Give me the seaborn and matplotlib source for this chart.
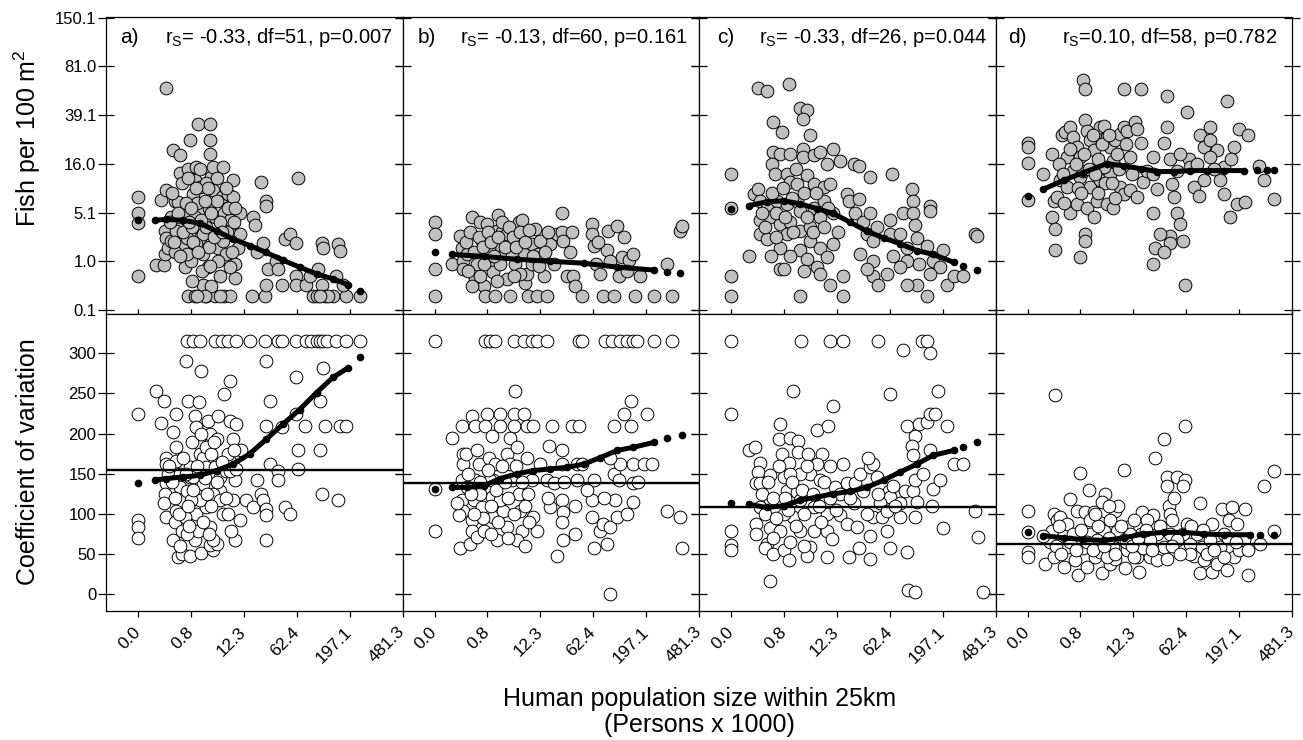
import numpy as np
import matplotlib
matplotlib.use('Agg')
import matplotlib.pyplot as plt
from matplotlib.ticker import FixedLocator, FuncFormatter, MultipleLocator
import seaborn as sns

nan = np.nan

# Values are plotted on fourth-root scales (population and fish density),
# so the arrays hold the transformed numbers.
pop_max = 481.3
cv_ceiling = 316

# ---- top row: fish density (4th root), pairs of (pop, fish) ----
fish_a = np.array([
    (0, 1.66), (0, 1.49), (0, 1.39), (0, 0.85),
    (0.31, 0.96), (0.46, 0.96), (0.41, 1.63), (0.50, 1.73), (0.49, 2.78), (0.47, 1.31), (0.50, 1.24),
    (0.47, 1.07), (0.53, 1.14), (0.59, 1.21), (0.62, 2.14), (0.74, 2.09), (0.74, 1.91), (0.65, 1.62),
    (0.71, 1.61), (0.74, 1.49), (0.71, 1.33), (0.77, 1.16), (0.83, 0.94), (0.86, 1.24), (0.92, 2.24),
    (0.89, 1.95), (0.89, 0.64), (1.00, 0.64), (0.94, 1.00), (1.00, 1.83), (0.97, 1.69), (1.03, 1.97),
    (1.06, 2.41), (1.09, 1.76), (1.12, 1.55), (1.09, 1.24), (1.15, 0.76), (1.15, 1.07), (1.21, 0.64),
    (1.24, 0.94), (1.27, 2.41), (1.27, 2.24), (1.27, 2.10), (1.30, 1.86), (1.33, 1.97), (1.26, 1.55),
    (1.33, 1.73), (1.36, 1.45), (1.39, 1.28), (1.42, 1.14), (1.45, 0.85), (1.48, 1.66), (1.51, 1.97),
    (1.53, 1.49), (1.56, 1.07), (1.59, 1.69), (1.62, 1.42), (1.65, 1.28), (1.68, 1.83), (1.68, 1.66),
    (1.71, 0.97), (1.71, 0.83), (1.36, 0.64), (1.53, 0.64), (1.62, 0.64), (1.77, 1.14), (1.80, 1.28),
    (1.80, 1.49), (1.45, 0.64), (1.62, 0.94), (1.15, 1.28), (1.00, 1.45), (0.86, 1.07), (0.80, 1.49),
    (0.68, 1.31), (0.59, 1.45), (1.03, 1.18), (1.21, 1.35), (1.39, 1.62), (1.51, 1.21),
    (0.56, 1.40), (0.65, 1.10), (0.80, 1.30), (0.95, 1.35), (1.05, 1.60), (1.20, 1.80), (1.10, 1.95),
    (1.40, 1.85), (1.45, 1.40), (1.58, 1.30), (1.70, 1.40), (1.25, 1.15), (0.95, 0.80), (1.30, 0.75),
    (1.18, 0.64), (1.05, 0.64),
    (0.60, 1.70), (0.70, 1.50), (0.78, 1.80), (0.85, 1.60), (0.90, 1.40), (0.98, 1.20), (1.06, 1.10),
    (1.12, 1.42), (1.18, 1.62), (1.24, 1.75), (1.30, 1.50), (1.35, 1.25), (1.42, 1.00), (1.48, 1.30),
    (1.55, 1.75), (1.60, 1.55), (1.66, 1.10), (1.72, 1.55), (1.02, 1.75), (0.88, 1.85), (0.93, 1.55),
    (1.13, 0.90), (1.28, 0.95), (0.75, 1.05), (0.64, 1.20),
    (2.01, 0.64), (2.04, 1.45), (2.07, 1.37), (2.10, 1.09), (2.18, 1.81), (2.21, 1.19), (2.24, 0.64),
    (2.27, 1.62), (2.27, 1.57), (2.30, 0.92), (2.27, 0.76), (2.45, 1.00), (2.48, 0.92), (2.54, 0.76),
    (2.60, 1.23), (2.69, 1.28), (2.80, 1.19), (2.83, 1.85), (2.80, 0.85), (2.80, 0.76), (2.98, 0.76),
    (3.04, 0.85), (3.10, 0.64), (3.16, 0.64), (3.19, 0.92), (3.25, 1.19), (3.28, 1.14), (3.25, 0.76),
    (3.31, 0.64), (3.45, 0.64), (3.51, 0.85), (3.54, 1.18), (3.57, 1.11), (3.69, 0.64), (3.63, 0.76),
    (3.93, 0.64), (3.36, 0.64), (3.22, 0.64)])

fish_b = np.array([
    (0, 1.40), (0, 1.28), (0, 0.92), (0, 0.64),
    (0.31, 0.97), (0.45, 1.26), (0.48, 1.14), (0.51, 1.00), (0.51, 0.92), (0.66, 1.45), (0.72, 0.82),
    (0.81, 1.40), (0.84, 1.21), (0.87, 0.75), (0.90, 0.64), (0.93, 1.38), (0.99, 0.97), (1.04, 0.89),
    (1.07, 0.64), (1.10, 1.31), (1.13, 1.47), (1.16, 1.16), (1.19, 1.30), (1.22, 1.06), (1.28, 0.82),
    (1.34, 0.64), (1.40, 1.21), (1.43, 0.97), (1.46, 1.28), (1.49, 1.40), (1.55, 1.42), (1.58, 1.07),
    (1.61, 0.78), (1.64, 0.87), (1.66, 0.64), (1.72, 1.18), (1.78, 1.33), (1.81, 0.64), (1.84, 1.07),
    (1.93, 0.85), (1.99, 0.64), (2.05, 1.18), (2.11, 0.97), (2.17, 1.28), (2.26, 1.50), (2.26, 1.30),
    (2.28, 1.21), (2.34, 0.85), (2.43, 1.30), (2.46, 0.85), (2.49, 0.75), (2.61, 0.64), (2.79, 1.38),
    (2.79, 1.28), (2.82, 1.16), (2.85, 0.97), (2.93, 0.87), (2.99, 0.64), (3.05, 1.12), (3.08, 1.31),
    (3.17, 0.64), (3.23, 1.36), (3.26, 0.85), (3.32, 1.04), (3.44, 1.01), (3.52, 1.07), (3.55, 0.64),
    (3.64, 0.85), (3.88, 0.64), (4.11, 0.97), (4.20, 0.64), (4.35, 1.31), (4.38, 1.36),
    (0.57, 1.07), (0.75, 0.97), (0.96, 1.14), (1.28, 1.28), (1.37, 1.07), (1.52, 0.87), (1.72, 0.97),
    (1.87, 1.21), (1.16, 0.97), (0.87, 0.97), (0.66, 0.75),
    (0.55, 1.20), (0.62, 1.30), (0.70, 1.10), (0.78, 1.25), (0.85, 1.15), (0.95, 1.30), (1.00, 1.20),
    (1.05, 1.05), (1.12, 1.25), (1.20, 1.40), (1.25, 1.15), (1.32, 1.35), (1.38, 1.25), (1.45, 1.15),
    (1.52, 1.30), (1.60, 1.20), (1.68, 1.32), (1.75, 1.05), (1.85, 0.95), (1.95, 1.10), (0.60, 0.90),
    (0.80, 0.85), (1.10, 0.80), (1.40, 0.85), (2.00, 1.30), (2.40, 1.10), (2.90, 1.20), (3.10, 1.00),
    (3.35, 1.25), (3.40, 0.90)])

fish_c = np.array([
    (0, 1.90), (0, 1.55), (0, 0.85), (0, 0.64),
    (0.31, 1.05), (0.40, 1.69), (0.48, 1.74), (0.48, 2.78), (0.63, 2.75), (1.02, 2.82), (1.22, 2.57),
    (1.34, 2.55), (1.28, 2.46), (0.75, 2.43), (0.90, 2.33), (1.40, 2.29), (0.75, 2.12), (0.87, 2.10),
    (1.04, 2.10), (1.28, 2.15), (1.28, 2.07), (1.46, 2.09), (1.58, 2.12), (1.81, 2.15), (1.69, 2.00),
    (1.93, 2.03), (2.17, 2.00), (2.26, 1.98), (2.46, 1.86), (2.85, 1.90), (0.72, 2.00), (0.78, 1.90),
    (0.99, 1.90), (1.04, 1.81), (1.16, 1.79), (1.34, 1.88), (1.46, 1.79), (1.64, 1.76), (1.75, 1.79),
    (0.51, 1.62), (0.63, 1.55), (0.81, 1.62), (0.99, 1.59), (1.16, 1.62), (1.22, 1.52), (1.46, 1.55),
    (1.64, 1.62), (1.81, 1.49), (0.51, 1.42), (0.69, 1.45), (0.87, 1.38), (1.04, 1.40), (1.22, 1.31),
    (1.40, 1.35), (1.58, 1.45), (0.51, 1.28), (0.63, 1.23), (0.87, 1.14), (0.99, 1.28), (1.22, 1.12),
    (1.40, 1.21), (1.58, 1.14), (1.69, 1.04), (1.81, 1.18), (0.87, 0.92), (0.93, 0.92), (1.34, 1.02),
    (1.52, 0.94), (1.58, 0.87), (1.75, 0.76), (1.99, 0.85), (1.22, 0.64), (1.99, 0.64), (2.05, 1.69),
    (2.08, 1.62), (2.26, 1.64), (2.20, 1.49), (2.34, 1.40), (2.46, 1.49), (2.40, 1.28), (2.58, 1.35),
    (2.52, 1.21), (2.28, 1.07), (2.52, 1.00), (2.52, 0.85), (2.40, 0.92), (2.61, 0.76), (2.82, 1.42),
    (2.82, 1.28), (2.99, 1.28), (3.05, 1.50), (3.20, 1.74), (3.23, 1.62), (3.23, 1.49), (3.26, 1.37),
    (3.52, 1.57), (3.52, 1.52), (3.29, 1.24), (3.47, 1.16), (3.11, 1.14), (3.11, 1.00), (3.32, 0.97),
    (3.58, 1.00), (3.76, 1.12), (3.29, 0.76), (3.11, 0.76), (3.47, 0.64), (3.70, 0.94), (3.82, 0.76),
    (3.94, 0.85), (4.11, 0.85), (4.32, 1.28), (4.35, 1.26), (2.87, 1.05), (2.99, 0.94), (2.76, 0.87),
    (3.52, 0.87),
    (0.55, 1.50), (0.60, 1.35), (0.72, 1.70), (0.80, 1.50), (0.92, 1.75), (0.95, 1.45), (1.08, 1.65),
    (1.10, 1.30), (1.15, 1.95), (1.30, 1.70), (1.35, 1.45), (1.45, 1.30), (1.50, 1.70), (1.65, 1.35),
    (1.72, 1.55), (0.80, 1.25), (1.05, 1.05), (1.30, 0.90), (0.70, 1.05), (1.90, 1.30)])

fish_d = np.array([
    (0, 2.21), (0, 2.17), (0, 2.01), (0, 1.63),
    (0.28, 1.90), (0.43, 2.10), (0.46, 1.62), (0.43, 1.45), (0.49, 1.33), (0.49, 1.12), (0.61, 2.29),
    (0.67, 2.33), (0.76, 2.38), (0.81, 2.27), (0.87, 2.17), (0.93, 2.07), (0.99, 2.86), (1.02, 2.77),
    (1.02, 2.45), (1.05, 2.34), (1.11, 2.24), (1.17, 2.14), (1.23, 2.29), (1.29, 2.38), (1.35, 2.39),
    (1.40, 2.27), (1.46, 2.17), (1.52, 2.03), (1.55, 2.24), (1.64, 2.31), (1.70, 2.38), (1.76, 2.34),
    (1.91, 2.43), (1.94, 2.36), (2.00, 2.21), (0.58, 1.83), (0.70, 1.76), (0.81, 1.93), (0.93, 1.86),
    (1.11, 1.76), (1.29, 1.83), (1.46, 1.90), (1.64, 1.76), (0.52, 1.66), (0.76, 1.50), (0.87, 1.59),
    (1.05, 1.55), (1.17, 1.45), (1.23, 1.62), (1.40, 1.59), (1.52, 1.55), (1.70, 1.69), (1.82, 1.73),
    (1.94, 1.66), (2.05, 1.81), (2.11, 1.93), (1.02, 1.28), (1.02, 1.21), (0.93, 1.04), (1.70, 2.77),
    (2.00, 2.77), (2.23, 2.07), (2.23, 1.90), (2.29, 1.74), (2.41, 2.21), (2.47, 2.38), (2.47, 2.69),
    (2.53, 2.05), (2.56, 1.79), (2.59, 1.66), (2.64, 1.49), (2.70, 1.38), (2.53, 1.26), (2.53, 1.19),
    (2.76, 1.21), (2.82, 2.53), (2.85, 2.05), (2.94, 1.76), (3.03, 1.67), (3.06, 2.29), (3.12, 2.17),
    (3.23, 2.38), (3.23, 2.24), (3.35, 2.14), (3.47, 1.97), (3.41, 1.83), (3.47, 1.69), (3.53, 2.64),
    (3.65, 2.17), (3.74, 2.36), (3.71, 1.59), (3.85, 1.61), (3.59, 1.45), (3.91, 2.29), (4.09, 1.98),
    (4.18, 1.83), (4.36, 1.64), (2.23, 1.50), (2.35, 1.28), (2.26, 1.14), (2.41, 1.09), (2.23, 0.97),
    (2.79, 0.76), (2.88, 1.97), (3.12, 1.83), (3.23, 2.07), (2.64, 1.93), (1.82, 2.07), (1.35, 1.97),
    (0.70, 2.07), (0.99, 1.93),
    (0.55, 2.00), (0.62, 1.90), (0.75, 2.15), (0.85, 2.00), (0.90, 1.75), (1.00, 2.10), (1.08, 1.95),
    (1.15, 2.30), (1.20, 1.90), (1.25, 2.05), (1.32, 2.20), (1.38, 1.80), (1.45, 2.30), (1.50, 1.80),
    (1.58, 2.10), (1.62, 1.95), (1.75, 2.20), (1.85, 1.90), (0.65, 1.60), (0.95, 1.70), (1.25, 1.70),
    (1.55, 1.65), (3.00, 2.00), (3.30, 1.95), (3.60, 2.05), (2.70, 2.10)])

# smoothed trend (dotted black), nan marks a gap between runs
fish_fit_a = np.array([(0, 1.42), (nan, nan), (0.30, 1.42), (0.50, 1.43), (0.80, 1.42), (1.09, 1.39),
                       (1.39, 1.31), (1.68, 1.23), (1.98, 1.16), (2.27, 1.09), (2.57, 1.01), (2.86, 0.94),
                       (3.16, 0.87), (3.45, 0.82), (3.72, 0.76), (nan, nan), (3.93, 0.70)])
fish_fit_b = np.array([(0, 1.09), (nan, nan), (0.31, 1.07), (0.87, 1.05), (1.46, 1.02), (2.05, 1.00),
                       (2.64, 0.98), (3.23, 0.94), (3.88, 0.91), (nan, nan), (4.11, 0.89), (nan, nan),
                       (4.35, 0.88)])
fish_fit_c = np.array([(0, 1.54), (nan, nan), (0.31, 1.57), (0.63, 1.61), (0.93, 1.62), (1.22, 1.59),
                       (1.52, 1.54), (1.81, 1.49), (2.11, 1.40), (2.40, 1.31), (2.70, 1.24), (2.99, 1.18),
                       (3.29, 1.11), (3.58, 1.07), (3.94, 0.99), (nan, nan), (4.11, 0.95), (nan, nan),
                       (4.35, 0.91)])
fish_fit_d = np.array([(0, 1.67), (nan, nan), (0.28, 1.74), (0.64, 1.83), (0.99, 1.91), (1.40, 2.00),
                       (1.70, 1.98), (2.00, 1.95), (2.29, 1.92), (2.59, 1.92), (2.88, 1.93), (3.18, 1.93),
                       (3.47, 1.93), (3.83, 1.93), (nan, nan), (4.06, 1.94), (nan, nan), (4.24, 1.94),
                       (nan, nan), (4.36, 1.94)])

# ---- bottom row: coefficient of variation, pairs of (pop, cv) ----
cv_a = np.array([
    (0, 224), (0, 92), (0, 84), (0, 70),
    (0.32, 253), (0.41, 213), (0.46, 241), (0.50, 170), (0.50, 162), (0.53, 150), (0.50, 139), (0.47, 125),
    (0.46, 113), (0.50, 96), (0.62, 202), (0.68, 224), (0.68, 183), (0.68, 166), (0.74, 150), (0.74, 133),
    (0.68, 104), (0.65, 90), (0.62, 68), (0.70, 46), (0.77, 50), (0.86, 129), (0.92, 158), (0.92, 146),
    (0.89, 241), (0.92, 48), (1.00, 67), (1.03, 100), (1.06, 79), (1.12, 51), (0.84, 290), (1.12, 278),
    (1.08, 239), (1.00, 222), (1.03, 208), (1.09, 187), (1.09, 175), (1.15, 170), (1.21, 183), (1.21, 158),
    (1.24, 216), (1.27, 199), (1.30, 175), (1.36, 158), (1.39, 193), (1.42, 222), (1.45, 146), (1.45, 129),
    (1.51, 100), (1.56, 154), (1.59, 175), (1.62, 216), (1.68, 193), (1.71, 142), (1.80, 175), (1.80, 92),
    (1.71, 67), (1.65, 79), (1.53, 249), (1.62, 266), (1.33, 55), (1.27, 61), (1.39, 63), (1.21, 108),
    (1.27, 84), (1.33, 67), (1.09, 117), (1.15, 137), (0.94, 117), (0.83, 96), (0.77, 79), (0.86, 75),
    (0.97, 146), (1.33, 125), (1.45, 117), (1.68, 117), (1.62, 154), (1.74, 212), (1.74, 156), (1.83, 179),
    (1.92, 117), (2.04, 108), (2.10, 142), (2.18, 125), (2.21, 117), (2.27, 106), (2.27, 98), (2.27, 290),
    (2.33, 241), (2.27, 67), (2.27, 210), (2.33, 162), (2.48, 154), (2.48, 142), (2.60, 108), (2.69, 100),
    (2.54, 208), (2.80, 270), (2.80, 224), (2.83, 179), (2.83, 156), (2.95, 210), (3.22, 179), (3.25, 125),
    (3.28, 282), (3.31, 210), (3.54, 117), (3.57, 210), (3.69, 210), (3.22, 241),
    (0.55, 160), (0.60, 140), (0.65, 120), (0.72, 100), (0.80, 170), (0.85, 150), (0.88, 110), (0.95, 190),
    (0.98, 130), (1.05, 160), (1.12, 200), (1.18, 145), (1.22, 125), (1.30, 110), (1.35, 190), (1.40, 140),
    (1.48, 165), (1.55, 120), (1.60, 100), (1.70, 180), (0.90, 85), (1.15, 90), (1.25, 75), (0.75, 60)])

cv_b = np.array([
    (0, 131), (0, 79),
    (0.31, 195), (0.48, 210), (0.51, 175), (0.51, 162), (0.48, 142), (0.48, 117), (0.51, 104), (0.43, 98),
    (0.45, 57), (0.63, 63), (0.66, 222), (0.72, 210), (0.78, 162), (0.72, 142), (0.69, 117), (0.66, 92),
    (0.66, 79), (0.75, 71), (0.84, 108), (0.87, 79), (0.93, 224), (0.90, 210), (0.96, 170), (1.02, 197),
    (1.07, 162), (1.04, 142), (1.02, 121), (1.04, 96), (1.10, 67), (1.16, 224), (1.16, 210), (1.28, 175),
    (1.34, 195), (1.34, 162), (1.37, 142), (1.40, 224), (1.40, 210), (1.43, 253), (1.46, 183), (1.49, 125),
    (1.52, 104), (1.55, 79), (1.58, 224), (1.64, 210), (1.64, 170), (1.66, 125), (1.72, 142), (1.75, 210),
    (1.75, 96), (1.81, 79), (1.46, 67), (1.22, 104), (1.16, 117), (1.28, 84), (0.99, 142), (0.81, 125),
    (0.57, 133), (0.40, 113), (1.87, 162), (1.99, 142), (2.02, 184), (2.08, 210), (2.11, 139), (2.05, 108),
    (2.26, 179), (2.26, 162), (2.26, 117), (2.28, 102), (2.26, 90), (2.28, 67), (2.17, 47), (2.43, 210),
    (2.55, 210), (2.52, 162), (2.52, 142), (2.49, 110), (2.49, 75), (2.61, 162), (2.79, 117), (2.82, 142),
    (2.79, 96), (2.82, 57), (2.93, 79), (2.99, 88), (3.05, 63), (3.11, 84), (3.11, 0), (3.17, 150),
    (3.17, 210), (3.23, 96), (3.20, 117), (3.26, 142), (3.29, 162), (3.35, 224), (3.47, 241), (3.47, 210),
    (3.52, 162), (3.52, 139), (3.52, 115), (3.70, 162), (3.76, 224), (3.85, 162), (4.11, 104), (4.35, 96),
    (4.38, 58), (3.11, 170),
    (0.55, 175), (0.60, 150), (0.65, 125), (0.75, 180), (0.80, 140), (0.85, 95), (0.95, 155), (1.00, 110),
    (1.08, 130), (1.12, 90), (1.20, 160), (1.25, 140), (1.30, 120), (1.40, 100), (1.45, 160), (1.55, 140),
    (1.60, 110), (1.68, 90), (0.70, 100), (1.00, 75), (1.30, 70), (1.60, 60), (2.00, 120), (2.30, 140),
    (2.70, 130), (3.00, 120), (3.40, 100), (3.60, 140)])

cv_c = np.array([
    (0, 224), (0, 79), (0, 61), (0, 55),
    (0.31, 179), (0.43, 183), (0.51, 164), (0.48, 152), (0.45, 139), (0.51, 139), (0.69, 148), (0.87, 212),
    (0.84, 193), (0.90, 175), (0.93, 146), (1.04, 195), (1.10, 253), (1.19, 191), (1.02, 164), (1.19, 177),
    (1.37, 175), (1.52, 204), (1.72, 210), (1.81, 235), (1.61, 175), (1.52, 162), (1.75, 160), (1.99, 162),
    (1.40, 150), (1.58, 142), (1.84, 133), (2.05, 139), (2.20, 139), (2.28, 150), (2.46, 158), (2.52, 162),
    (2.43, 170), (1.22, 150), (0.99, 129), (1.16, 127), (0.69, 117), (0.51, 108), (0.45, 88), (0.69, 82),
    (0.45, 75), (0.63, 63), (0.60, 57), (0.75, 50), (0.93, 55), (1.02, 42), (0.69, 17), (0.87, 79),
    (1.10, 96), (1.22, 79), (1.46, 79), (1.40, 59), (1.34, 48), (1.69, 46), (1.69, 79), (1.78, 69),
    (1.93, 98), (2.05, 88), (2.08, 46), (2.23, 84), (2.26, 57), (2.46, 73), (2.46, 44), (2.52, 96),
    (2.67, 96), (2.76, 79), (2.82, 57), (2.79, 129), (2.82, 121), (2.87, 135), (2.99, 96), (3.08, 128),
    (3.11, 53), (3.23, 128), (3.26, 96), (3.26, 142), (3.26, 197), (3.11, 210), (3.32, 212), (3.47, 214),
    (3.20, 185), (3.23, 173), (3.52, 224), (3.61, 224), (3.52, 179), (3.58, 131), (3.70, 142), (3.55, 110),
    (3.76, 82), (3.82, 210), (3.94, 162), (4.11, 162), (4.32, 104), (4.38, 71), (3.14, 5), (3.26, 3),
    (4.47, 3), (2.82, 249), (3.67, 253), (2.99, 113), (2.64, 113), (2.17, 113), (1.46, 108), (1.69, 100),
    (0.93, 100), (1.22, 117), (1.04, 150), (1.93, 125), (2.34, 129), (2.58, 146), (2.76, 104),
    (3.05, 304), (3.52, 300),
    (0.55, 125), (0.60, 100), (0.65, 140), (0.75, 120), (0.80, 95), (0.85, 160), (0.95, 120), (1.00, 105),
    (1.08, 140), (1.15, 85), (1.25, 130), (1.30, 100), (1.35, 160), (1.45, 125), (1.55, 110), (1.65, 140),
    (1.75, 120), (1.85, 105), (0.75, 70), (1.05, 65), (1.30, 60), (1.60, 90), (2.10, 120), (2.40, 100),
    (2.60, 125), (2.90, 110), (3.30, 115), (3.40, 150)])

cv_d = np.array([
    (0, 104), (0, 77), (0, 53), (0, 46),
    (0.48, 248), (0.93, 151), (1.08, 130), (0.76, 119), (0.46, 100), (0.52, 92), (0.43, 79), (0.58, 96),
    (0.87, 104), (1.02, 102), (1.17, 102), (1.38, 125), (1.38, 104), (1.32, 115), (1.55, 104), (1.61, 110),
    (1.70, 155), (1.76, 84), (2.02, 102), (2.23, 98), (2.26, 170), (2.41, 193), (2.79, 210), (2.47, 146),
    (2.64, 146), (2.79, 142), (2.47, 135), (2.76, 135), (2.50, 110), (2.53, 100), (2.56, 92), (2.82, 88),
    (3.06, 113), (3.26, 88), (3.44, 106), (3.62, 108), (3.85, 106), (3.56, 92), (3.71, 88), (4.18, 135),
    (4.36, 153), (4.36, 79), (4.12, 63), (3.91, 24), (0.31, 38), (0.46, 46), (0.64, 34), (0.84, 42),
    (0.90, 24), (1.05, 34), (1.20, 46), (1.32, 26), (1.46, 38), (1.55, 44), (1.73, 32), (1.94, 46),
    (1.97, 28), (2.17, 46), (2.29, 42), (2.47, 44), (2.94, 48), (3.06, 26), (3.12, 42), (3.26, 28),
    (3.35, 38), (3.53, 30), (3.65, 46), (3.74, 55), (3.09, 59), (2.88, 63), (2.76, 75), (2.53, 75),
    (2.29, 75), (2.00, 75), (1.82, 75), (1.58, 79), (1.35, 79), (1.11, 75), (0.93, 69), (0.64, 75),
    (0.40, 65), (0.28, 73), (0.70, 59), (0.99, 57), (1.29, 53), (1.52, 59), (1.76, 55), (2.05, 57),
    (2.41, 59), (2.64, 67), (3.23, 67), (3.47, 75), (3.83, 67), (0.70, 88), (1.11, 92), (1.46, 92),
    (1.88, 92), (2.11, 92), (3.00, 75), (3.41, 59), (0.81, 75), (1.23, 67), (1.70, 67), (2.17, 67),
    (2.88, 50), (3.18, 50), (3.47, 46), (1.88, 46), (1.40, 46),
    (0.50, 60), (0.60, 50), (0.75, 65), (0.85, 55), (0.95, 80), (1.05, 65), (1.15, 55), (1.25, 85),
    (1.35, 60), (1.45, 70), (1.55, 50), (1.65, 85), (1.75, 65), (1.85, 60), (1.95, 70), (2.10, 80),
    (2.20, 55), (2.35, 85), (2.55, 60), (2.70, 50), (2.90, 85), (3.10, 80), (3.30, 55), (3.55, 70),
    (3.70, 65), (3.90, 55), (0.55, 85), (1.20, 100), (1.45, 110), (2.60, 120)])

# sites at the CV ceiling (only one non-zero count)
cv_top_a = [0.86, 0.97, 1.09, 1.36, 1.48, 1.59, 1.74, 1.98, 2.24, 2.48, 2.54, 2.80, 2.98, 3.07, 3.16,
            3.22, 3.28, 3.34, 3.51, 3.69, 3.93]
cv_top_b = [0, 0.90, 0.99, 1.07, 1.40, 1.58, 1.72, 1.81, 1.99, 2.55, 2.61, 3.02, 3.14, 3.29, 3.41,
            3.52, 3.58, 3.88, 4.20]
cv_top_c = [0, 1.24, 1.75, 1.99, 2.60, 3.38, 3.47]
cv_top_d = []

cv_fit_a = np.array([(0, 139), (nan, nan), (0.30, 142), (0.50, 144), (0.80, 146), (1.09, 148), (1.39, 154),
                     (1.68, 162), (1.98, 175), (2.27, 193), (2.57, 212), (2.86, 230), (3.16, 251),
                     (3.45, 270), (3.72, 282), (nan, nan), (3.93, 295)])
cv_fit_b = np.array([(0, 131), (nan, nan), (0.31, 133), (0.57, 133), (0.87, 135), (1.16, 144), (1.46, 150),
                     (1.75, 154), (2.05, 156), (2.34, 158), (2.64, 162), (2.93, 170), (3.23, 179),
                     (3.52, 183), (3.88, 189), (nan, nan), (4.11, 194), (nan, nan), (4.38, 198)])
cv_fit_c = np.array([(0, 113), (nan, nan), (0.31, 112), (0.63, 108), (0.93, 110), (1.22, 117), (1.52, 121),
                     (1.81, 125), (2.11, 128), (2.40, 133), (2.70, 142), (2.99, 152), (3.29, 162),
                     (3.58, 173), (3.94, 179), (nan, nan), (4.11, 183), (nan, nan), (4.35, 189)])
cv_fit_d = np.array([(0, 77), (nan, nan), (0.28, 73), (0.64, 70), (0.99, 68), (1.35, 67), (1.70, 70),
                     (2.05, 75), (2.41, 77), (2.76, 77), (3.12, 75), (3.47, 74), (3.94, 74), (nan, nan),
                     (4.12, 74), (nan, nan), (4.36, 74)])

cv_mean = [155, 138, 109, 62]

panel_tags = ['a)', 'b)', 'c)', 'd)']
panel_stats = ['$r_S$= -0.33, df=51, p=0.007', '$r_S$= -0.13, df=60, p=0.161',
               '$r_S$= -0.33, df=26, p=0.044', '$r_S$=0.10, df=58, p=0.782']

fish_sets = [fish_a, fish_b, fish_c, fish_d]
fish_fits = [fish_fit_a, fish_fit_b, fish_fit_c, fish_fit_d]
cv_sets = [cv_a, cv_b, cv_c, cv_d]
cv_tops = [cv_top_a, cv_top_b, cv_top_c, cv_top_d]
cv_fits = [cv_fit_a, cv_fit_b, cv_fit_c, cv_fit_d]

# ---- style ----
sns.set_style('ticks')
plt.rcParams['font.family'] = ['Liberation Sans', 'DejaVu Sans']
plt.rcParams['mathtext.default'] = 'regular'
for key in ['text.color', 'axes.labelcolor', 'xtick.color', 'ytick.color', 'axes.edgecolor']:
    plt.rcParams[key] = 'black'

fig, axes = plt.subplots(2, 4, figsize=(13.03, 7.40), dpi=100, sharex=True, sharey='row',
                         gridspec_kw={'wspace': 0, 'hspace': 0})
fig.subplots_adjust(left=0.0814, right=0.9916, top=0.977, bottom=0.1743)

x_step = pop_max ** 0.25 / 5
x_ticks = [k * x_step for k in range(6)]
root4_fmt = FuncFormatter(lambda v, p: f'{abs(v) ** 4:.1f}')

tag_x = [0.047, 0.052, 0.060, 0.042]
stat_x = [0.968, 0.961, 0.971, 0.951]

for i in range(4):
    top = axes[0, i]
    bot = axes[1, i]

    fish = fish_sets[i]
    sns.scatterplot(x=fish[:, 0], y=fish[:, 1], ax=top, s=84, color='#c0c0c0',
                    edgecolor='black', linewidth=0.7, zorder=2)
    fit = fish_fits[i]
    top.plot(fit[:, 0], fit[:, 1], color='black', lw=3.6, solid_capstyle='round', zorder=3)
    top.plot(fit[:, 0], fit[:, 1], 'o', color='black', ms=4.5, zorder=3)

    cv = cv_sets[i]
    cx = np.concatenate([cv[:, 0], cv_tops[i]])
    cy = np.concatenate([cv[:, 1], np.full(len(cv_tops[i]), cv_ceiling)])
    sns.scatterplot(x=cx, y=cy, ax=bot, s=84, color='white', edgecolor='black',
                    linewidth=0.7, zorder=2)
    bot.axhline(cv_mean[i], color='black', lw=1.7, zorder=2.5)
    fit = cv_fits[i]
    bot.plot(fit[:, 0], fit[:, 1], color='black', lw=3.6, solid_capstyle='round', zorder=3)
    bot.plot(fit[:, 0], fit[:, 1], 'o', color='black', ms=4.5, zorder=3)

    top.text(tag_x[i], 0.932, panel_tags[i], transform=top.transAxes, fontsize=15,
             ha='left', va='center')
    top.text(stat_x[i], 0.932, panel_stats[i], transform=top.transAxes, fontsize=14.5,
             ha='right', va='center')

    for ax in (top, bot):
        for sp in ax.spines.values():
            sp.set_linewidth(0.9)
            sp.set_color('black')
        ax.tick_params(axis='y', direction='inout', length=12, width=0.9, left=True,
                       right=True, labelsize=12, pad=1, labelleft=(i == 0))
    top.tick_params(axis='x', direction='in', length=3.6, width=0.9, bottom=True,
                    top=False, labelbottom=False)
    bot.tick_params(axis='x', direction='out', length=4.3, width=0.9, bottom=True,
                    top=False, labelsize=12.5, pad=9)

axes[0, 0].set_xlim(-0.567, pop_max ** 0.25)
axes[0, 0].xaxis.set_major_locator(FixedLocator(x_ticks))
axes[0, 0].xaxis.set_major_formatter(root4_fmt)
axes[0, 0].set_ylim(0.459, 3.505)
axes[0, 0].yaxis.set_major_locator(MultipleLocator(0.5))
axes[0, 0].yaxis.set_major_formatter(root4_fmt)
axes[1, 0].set_ylim(-21, 349)
axes[1, 0].yaxis.set_major_locator(MultipleLocator(50))

for ax in axes[1]:
    for lab in ax.get_xticklabels():
        lab.set_rotation(45)
        lab.set_ha('right')
        lab.set_va('center')
        lab.set_rotation_mode('anchor')

for ax in axes.flat:
    ax.set_xlabel('')
    ax.set_ylabel('')

fig.text(0.0207, 0.8135, 'Fish per 100 m$^2$', rotation=90, ha='center', va='center', fontsize=18)
fig.text(0.0215, 0.3757, 'Coefficient of variation', rotation=90, ha='center', va='center',
         fontsize=18)
fig.text(0.537, 0.038, 'Human population size within 25km\n(Persons x 1000)', ha='center',
         va='center', fontsize=18, linespacing=1.1)

fig.savefig('out.png', dpi=100)
